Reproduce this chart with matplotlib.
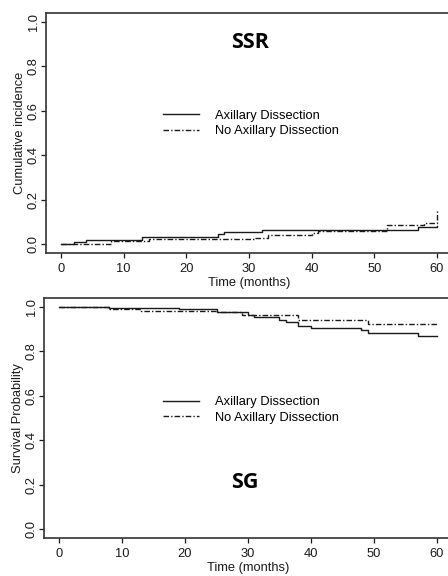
import matplotlib
matplotlib.use("Agg")
import matplotlib.pyplot as plt

plt.rcParams['font.family'] = ['Liberation Sans', 'DejaVu Sans']

# --- Top panel (SSR): cumulative incidence ---
ssr_ad_t = [0, 2, 4, 13, 25, 26, 32, 57, 60]
ssr_ad_y = [0.0, 0.010, 0.020, 0.030, 0.045, 0.055, 0.065, 0.078, 0.080]
ssr_no_t = [0, 8, 14, 31, 33, 40, 41, 52, 58, 60, 60]
ssr_no_y = [0.0, 0.013, 0.021, 0.029, 0.039, 0.048, 0.057, 0.086, 0.096, 0.096, 0.160]

# --- Bottom panel (SG): survival probability ---
sg_ad_t = [0, 8, 19, 25, 30, 31, 35, 36, 38, 40, 48, 49, 57, 60]
sg_ad_y = [1.0, 0.997, 0.99, 0.977, 0.965, 0.953, 0.940, 0.931, 0.916, 0.905, 0.895, 0.884, 0.868, 0.868]
sg_no_t = [0, 8, 13, 25, 29, 38, 49, 60]
sg_no_y = [1.0, 0.992, 0.980, 0.975, 0.965, 0.943, 0.923, 0.923]

labels = ["Axillary Dissection", "No Axillary Dissection"]
xticks = [0, 10, 20, 30, 40, 50, 60]
yticks = [0.0, 0.2, 0.4, 0.6, 0.8, 1.0]
ytick_labels = ["0.0", "0.2", "0.4", "0.6", "0.8", "1.0"]

W, H = 448, 576
fig = plt.figure(figsize=(W / 100, H / 100), dpi=100)

def px_axes(left, top, right, bottom):
    return fig.add_axes([left / W, 1 - bottom / H, (right - left) / W, (bottom - top) / H])

ax1 = px_axes(46, 13, 452, 253)
ax2 = px_axes(44, 298, 452, 538)

col = '#1a1a1a'
dash = (0, (4, 1.5, 1, 1.5))
fs = 9.3

def style(ax, ylabel):
    ax.set_xlim(-2.4, 62.4)
    ax.set_ylim(-0.04, 1.04)
    ax.set_xticks(xticks)
    ax.set_xticklabels([str(v) for v in xticks], fontsize=fs, color=col)
    ax.set_yticks(yticks)
    ax.set_yticklabels(ytick_labels, fontsize=fs, rotation=90, va='center', color=col)
    ax.tick_params(direction='out', length=3.5, width=0.9, colors=col)
    ax.tick_params(axis='x', pad=4)
    ax.tick_params(axis='y', pad=1)
    ax.set_xlabel("Time (months)", fontsize=fs, color=col, labelpad=1)
    ax.set_ylabel(ylabel, fontsize=fs, color=col, labelpad=1)
    for s in ax.spines.values():
        s.set_linewidth(1.2)
        s.set_color('#333333')

l1, = ax1.step(ssr_ad_t, ssr_ad_y, where='post', color=col, lw=1.0)
l2, = ax1.step(ssr_no_t, ssr_no_y, where='post', color=col, lw=1.0, linestyle=dash)
style(ax1, "Cumulative incidence")
ax1.legend([l1, l2], labels, loc='upper left', bbox_to_anchor=(0.288, 0.596),
           frameon=False, fontsize=fs, handlelength=2.8, handletextpad=1.2,
           labelspacing=0.25, borderpad=0, borderaxespad=0)
fig.text(250 / W, 1 - 43 / H, "SSR", fontsize=15.5, fontweight='bold',
         family=['Open Sans', 'DejaVu Sans'], ha='center', va='center', color='black')

m1, = ax2.step(sg_ad_t, sg_ad_y, where='post', color=col, lw=1.0)
m2, = ax2.step(sg_no_t, sg_no_y, where='post', color=col, lw=1.0, linestyle=dash)
style(ax2, "Survival Probability")
ax2.legend([m1, m2], labels, loc='upper left', bbox_to_anchor=(0.292, 0.59),
           frameon=False, fontsize=fs, handlelength=2.8, handletextpad=1.2,
           labelspacing=0.25, borderpad=0, borderaxespad=0)
fig.text(245 / W, 1 - 483 / H, "SG", fontsize=15.5, fontweight='bold',
         family=['Open Sans', 'DejaVu Sans'], ha='center', va='center', color='black')

fig.savefig("out.png", dpi=100)
